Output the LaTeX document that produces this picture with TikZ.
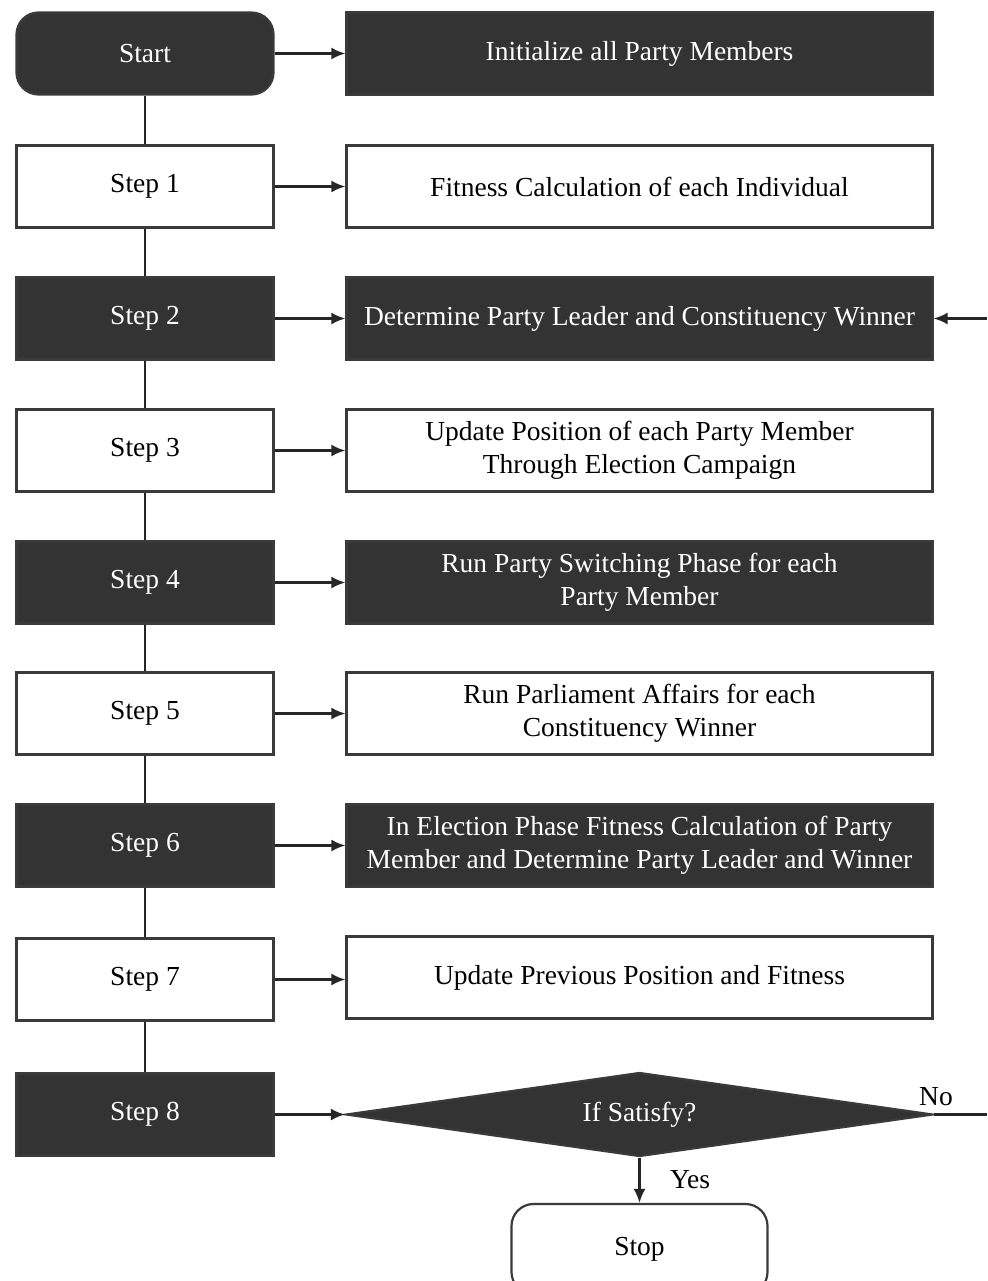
\documentclass[tikz,border=0pt]{standalone}
\usepackage{fontspec}
\setmainfont{Liberation Serif}
\usetikzlibrary{shapes.geometric,arrows.meta}
\definecolor{dk}{HTML}{333333}
\definecolor{ln}{HTML}{3A3A3A}
\begin{document}
\begin{tikzpicture}[x=1pt,y=-1pt,
 box/.style={draw=ln, line width=2.2pt, minimum width=257pt, minimum height=82pt, inner sep=0pt, font=\fontsize{27.5}{33}\selectfont, align=center},
 dark/.style={box, fill=dk, text=white},
 light/.style={box, fill=white, text=black},
 wide/.style={minimum width=586pt},
 conn/.style={draw=black!85, line width=2.2pt},
 arr/.style={conn, -{Latex[length=14pt,width=12pt]}},
 lbl/.style={font=\fontsize{27.5}{33}\selectfont, text=black}]
\clip (0,0) rectangle (987,1281);
\useasboundingbox (0,0) rectangle (987,1281);
% left column
\node[dark, rounded corners=22pt] (start) at (145,53.5) {Start};
\node[light] (s1) at (145,186.5) {Step 1};
\node[dark] (s2) at (145,318.5) {Step 2};
\node[light] (s3) at (145,450.5) {Step 3};
\node[dark] (s4) at (145,582.5) {Step 4};
\node[light] (s5) at (145,713.5) {Step 5};
\node[dark] (s6) at (145,845.5) {Step 6};
\node[light] (s7) at (145,979.5) {Step 7};
\node[dark] (s8) at (145,1114.5) {Step 8};
% right column
\node[dark, wide] (r0) at (639.5,53.5) {Initialize all Party Members};
\node[light, wide] (r1) at (639.5,186.5) {Fitness Calculation of each Individual};
\node[dark, wide] (r2) at (639.5,318.5) {Determine Party Leader and Constituency Winner};
\node[light, wide] (r3) at (639.5,450.5) {Update Position of each Party Member\\Through Election Campaign};
\node[dark, wide] (r4) at (639.5,582.5) {Run Party Switching Phase for each\\Party Member};
\node[light, wide] (r5) at (639.5,713.5) {Run Parliament Affairs for each\\Constituency Winner};
\node[dark, wide] (r6) at (639.5,845.5) {In Election Phase Fitness Calculation of Party\\Member and Determine Party Leader and Winner};
\node[light, wide] (r7) at (639.5,977.5) {Update Previous Position and Fitness};
\node[dark, diamond, aspect=7.07, minimum width=587pt, minimum height=84pt] (d) at (639.5,1114.5) {If Satisfy?};
\node[light, rounded corners=22pt, minimum width=256pt, minimum height=90pt] (stop) at (639.5,1249) {Stop};
% vertical connectors
\draw[conn] (start) -- (s1);
\draw[conn] (s1) -- (s2);
\draw[conn] (s2) -- (s3);
\draw[conn] (s3) -- (s4);
\draw[conn] (s4) -- (s5);
\draw[conn] (s5) -- (s6);
\draw[conn] (s6) -- (s7);
\draw[conn] (s7) -- (s8);
% horizontal arrows
\draw[arr] (start) -- (r0);
\draw[arr] (s1) -- (r1);
\draw[arr] (s2) -- (r2);
\draw[arr] (s3) -- (r3);
\draw[arr] (s4) -- (r4);
\draw[arr] (s5) -- (r5);
\draw[arr] (s6) -- (r6);
\draw[arr] (s7.east) -- (r7.west |- s7.east);
\draw[arr] (s8) -- (d.west);
% decision outputs
\draw[arr] (d.south) -- (stop.north);
\coordinate (noend) at (987,1114.5);
\coordinate (backin) at (987,318.5);
\draw[conn] (d.east) -- (noend);
\draw[arr] (backin) -- (r2.east);
\node[lbl] (yes) at (690,1180) {Yes};
\node[lbl] (no) at (936,1097) {No};
\end{tikzpicture}
\end{document}
